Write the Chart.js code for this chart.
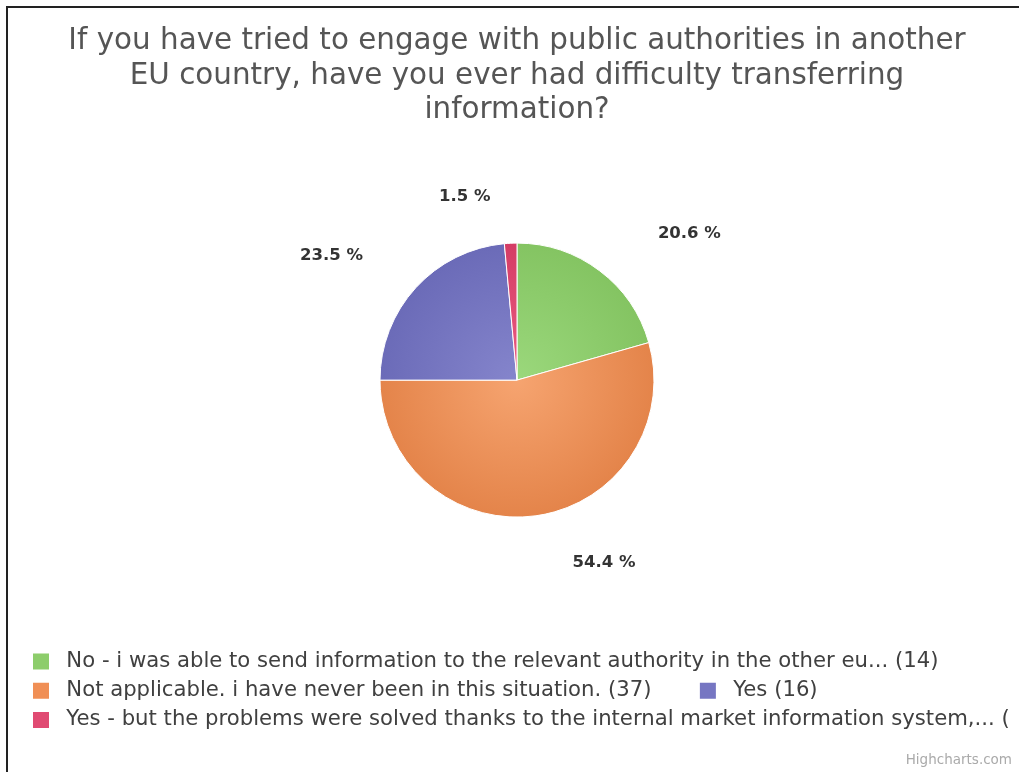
<!DOCTYPE html>
<html>
<head>
<meta charset="utf-8">
<script src="https://cdn.jsdelivr.net/npm/chart.js@4.4.1/dist/chart.umd.min.js"></script>
<style>
  html, body { margin: 0; padding: 0; background: #fff; overflow: hidden; }
  #frame { position: absolute; left: 6px; top: 6px; width: 1060px; height: 820px;
           border-left: 2px solid #222; border-top: 2px solid #222; }
  #wrap { position: absolute; left: 8px; top: 8px; width: 1018px; height: 766px; }
</style>
</head>
<body>
<div id="frame"></div>
<div id="wrap"><canvas id="chart"></canvas></div>
<script>
// --- 1. Data ---
const titleLines = [
  "If you have tried to engage with public authorities in another",
  "EU country, have you ever had difficulty transferring",
  "information?"
];
const categories = [
  "No - i was able to send information to the relevant authority in the other eu... (14)",
  "Not applicable. i have never been in this situation. (37)",
  "Yes (16)",
  "Yes - but the problems were solved thanks to the internal market information system,... (1)"
];
const counts = [14, 37, 16, 1];

// --- 2. Colours (light centre -> darker rim, like the original shading) ---
const baseColors = ["#8dcd6b", "#f08f55", "#7676c2", "#e04a72"];
const lightColors = ["#9bd87c", "#f6a470", "#8585cc", "#ec5d82"];
const darkColors = ["#84c462", "#e4844a", "#6b6bb8", "#d43c65"];

const total = counts.reduce((a, b) => a + b, 0);
const percentLabels = counts.map(v => (v / total * 100).toFixed(1) + " %");

function sliceFill(context) {
  const chart = context.chart;
  const area = chart.chartArea;
  const i = context.dataIndex;
  if (!area) return baseColors[i];
  const cx = (area.left + area.right) / 2;
  const cy = (area.top + area.bottom) / 2;
  const g = chart.ctx.createRadialGradient(cx, cy, 0, cx, cy, 137);
  g.addColorStop(0, lightColors[i]);
  g.addColorStop(1, darkColors[i]);
  return g;
}

// --- 3. Plugins: percentage labels + credits ---
const pieLabels = {
  id: "pieLabels",
  afterDatasetsDraw(chart) {
    const ctx = chart.ctx;
    const meta = chart.getDatasetMeta(0);
    ctx.save();
    ctx.font = 'bold 16.5px "DejaVu Sans"';
    ctx.fillStyle = "#333";
    ctx.textBaseline = "middle";
    meta.data.forEach((arc, i) => {
      const p = arc.getProps(["x", "y", "startAngle", "endAngle", "outerRadius"], true);
      const mid = (p.startAngle + p.endAngle) / 2;
      const r = p.outerRadius + 47;
      const right = Math.cos(mid) >= 0;
      const x = p.x + Math.cos(mid) * r + (right ? 30 : -18);
      const y = p.y + Math.sin(mid) * r;
      ctx.textAlign = right ? "left" : "right";
      ctx.fillText(percentLabels[i], x, y);
    });
    ctx.restore();
  }
};

const credits = {
  id: "credits",
  afterDraw(chart) {
    const ctx = chart.ctx;
    ctx.save();
    ctx.font = '13.5px "DejaVu Sans"';
    ctx.fillStyle = "#aaa";
    ctx.textAlign = "right";
    ctx.textBaseline = "middle";
    ctx.fillText("Highcharts.com", chart.width - 14, chart.height - 14);
    ctx.restore();
  }
};

// --- 4. Chart ---
new Chart(document.getElementById("chart"), {
  type: "pie",
  data: {
    labels: categories,
    datasets: [{
      data: counts,
      backgroundColor: sliceFill,
      borderColor: "#ffffff",
      borderWidth: 1
    }]
  },
  options: {
    responsive: true,
    maintainAspectRatio: false,
    animation: false,
    radius: 137,
    layout: { padding: { left: 17, right: 17, top: 0, bottom: 33.5 } },
    plugins: {
      title: {
        display: true,
        text: titleLines,
        color: "#555",
        font: { family: "DejaVu Sans", size: 29.4, weight: "normal", lineHeight: 1.174 },
        padding: { top: 16.5, bottom: 0 }
      },
      legend: {
        position: "bottom",
        align: "start",
        title: { display: true, text: "", font: { size: 1 }, padding: { top: 0, bottom: 9.55 } },
        labels: {
          color: "#404040",
          font: { family: "DejaVu Sans", size: 21.2 },
          boxWidth: 16,
          boxHeight: 16,
          padding: 8,
          generateLabels(chart) {
            // leading space widens box-to-text gap, trailing spaces give the item spacing
            return categories.map((text, i) => ({
              text: " " + text + "      ",
              fillStyle: baseColors[i],
              strokeStyle: baseColors[i],
              fontColor: "#404040",
              lineWidth: 0,
              hidden: false,
              index: i
            }));
          }
        }
      },
      tooltip: { enabled: false }
    }
  },
  plugins: [pieLabels, credits]
});
</script>
</body>
</html>
